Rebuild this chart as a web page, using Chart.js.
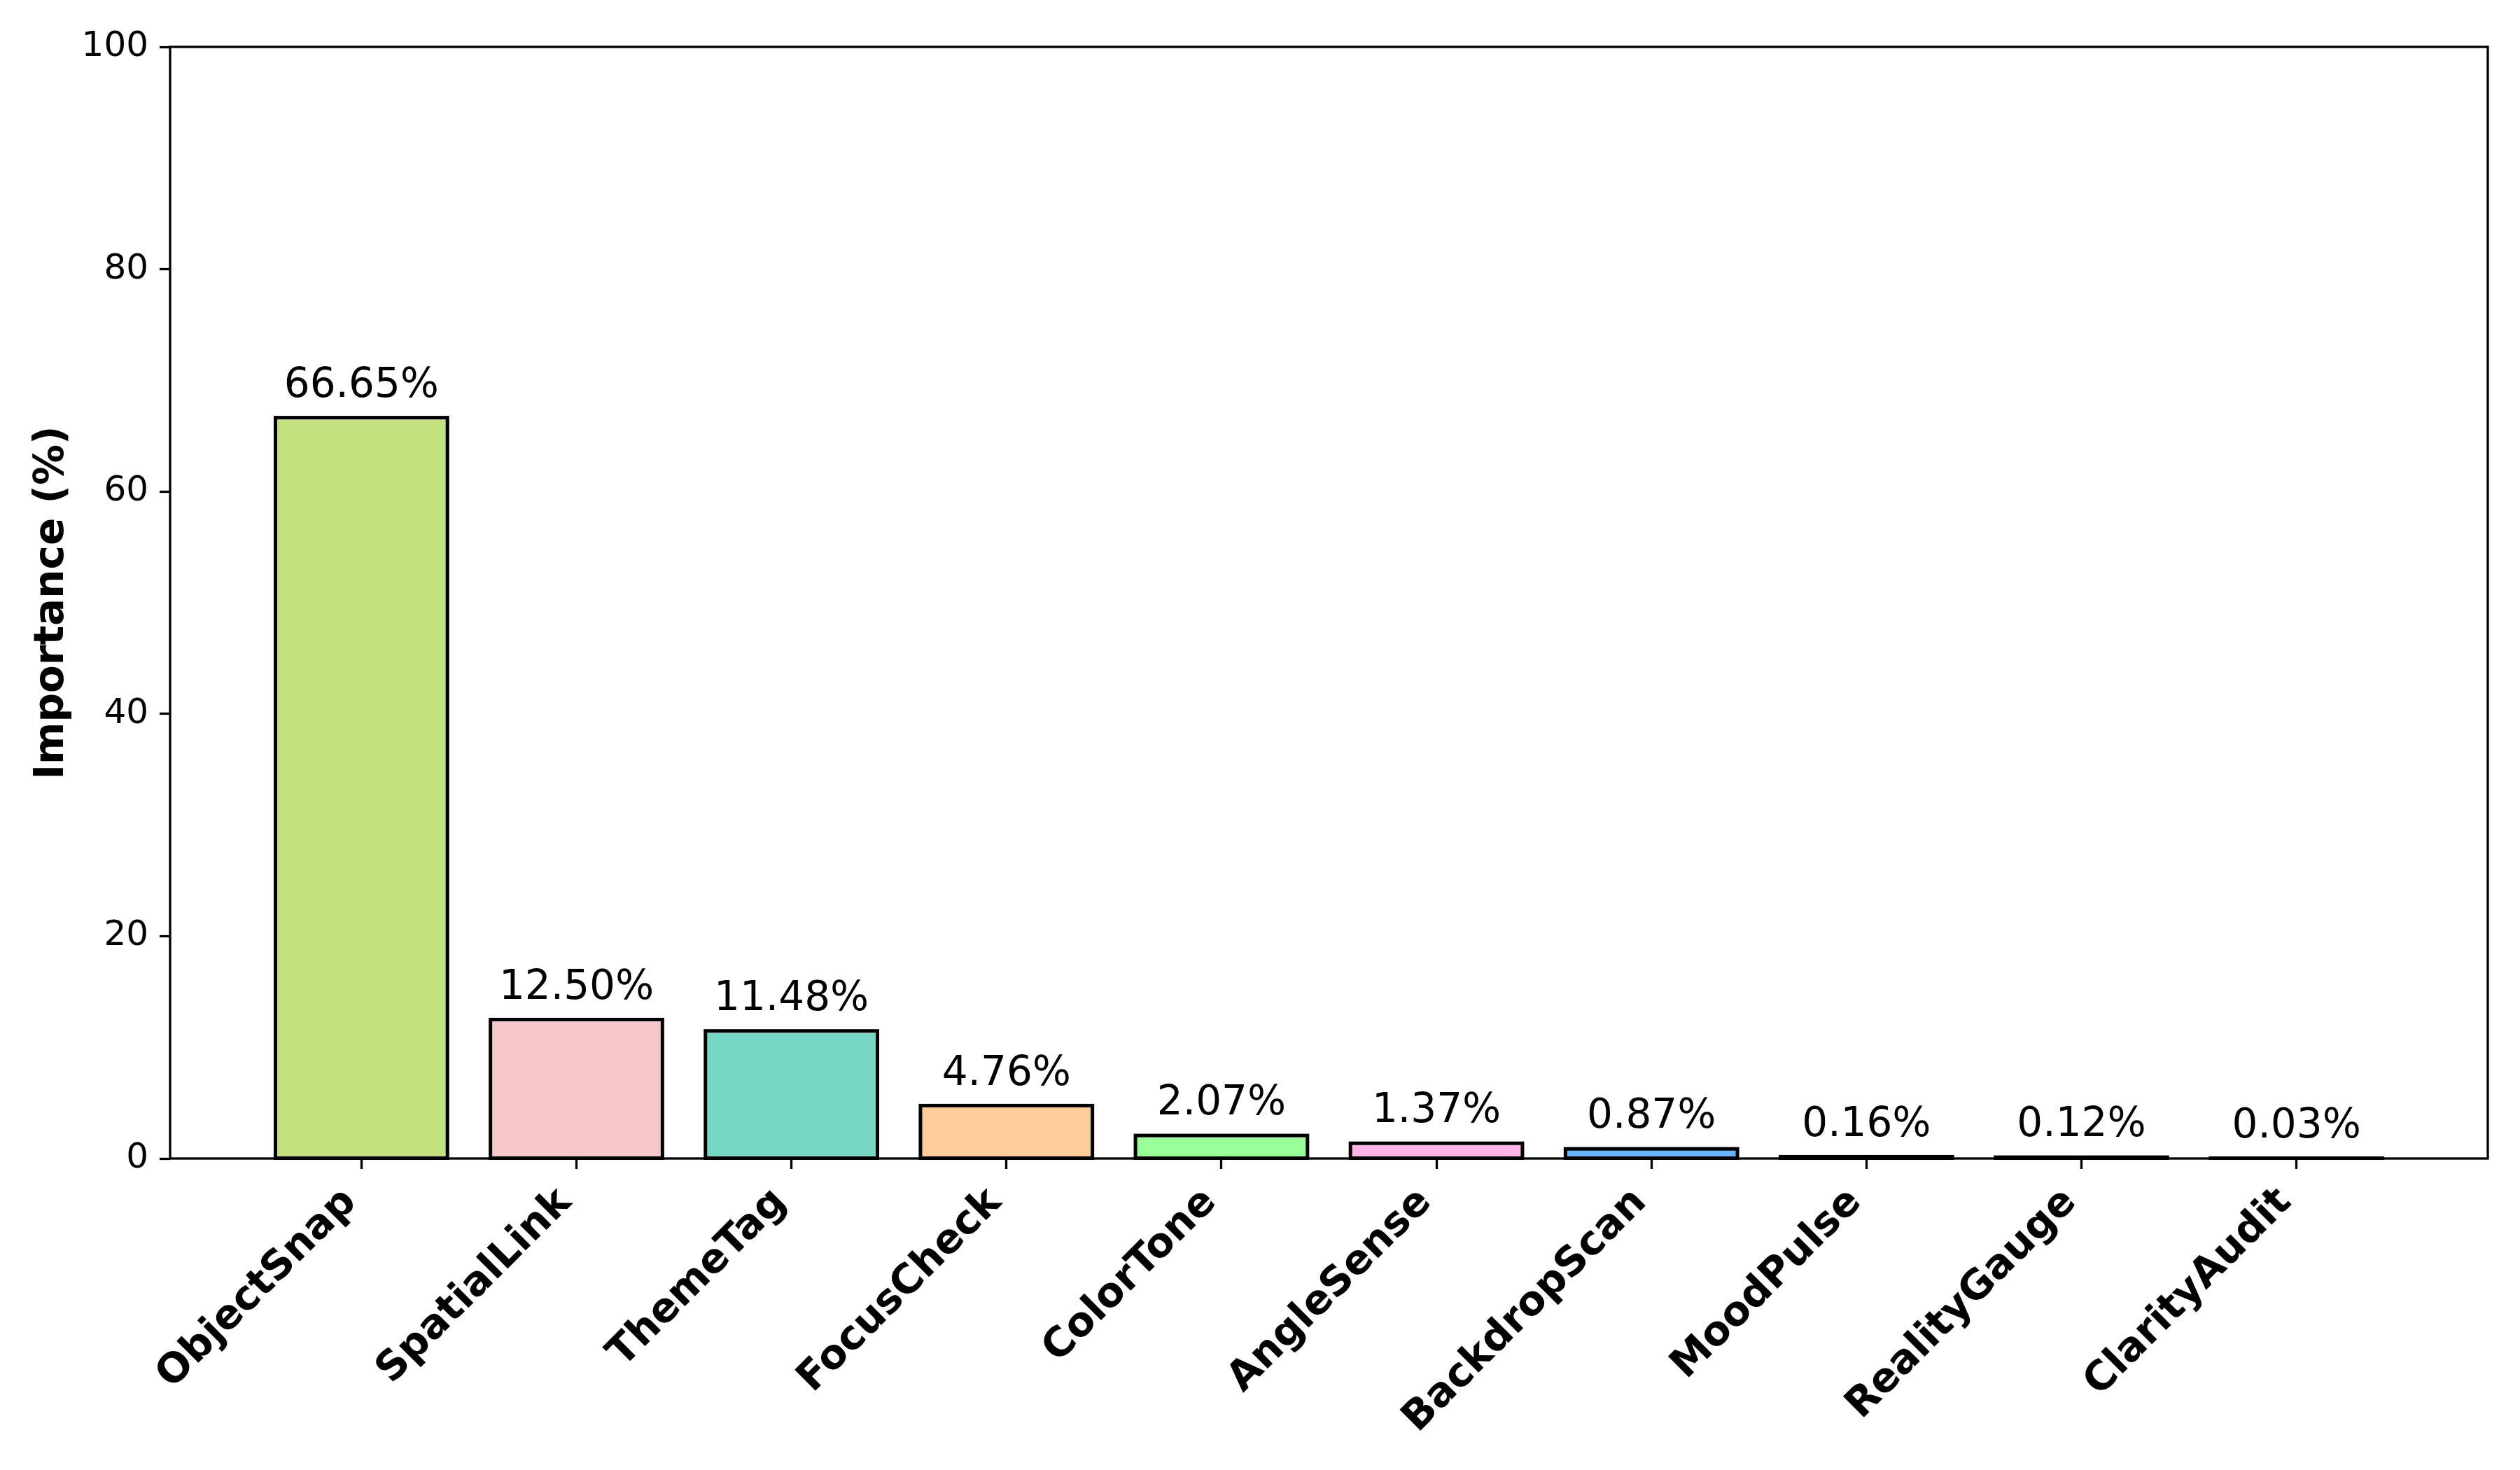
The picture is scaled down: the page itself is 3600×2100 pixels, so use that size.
<!DOCTYPE html>
<html>
<head>
<meta charset="utf-8">
<title>Feature Importance</title>
<script src="https://cdn.jsdelivr.net/npm/chart.js@4.4.1/dist/chart.umd.min.js"></script>
<style>
  html, body { margin: 0; padding: 0; background: #fff; }
  canvas { display: block; }
</style>
</head>
<body>
<canvas id="importanceChart" width="3600" height="2100"></canvas>
<script>
"use strict";

// chart data
const features = ["ObjectSnap", "SpatialLink", "ThemeTag", "FocusCheck", "ColorTone",
                  "AngleSense", "BackdropScan", "MoodPulse", "RealityGauge", "ClarityAudit"];
const importance = [66.65, 12.50, 11.48, 4.76, 2.07, 1.37, 0.87, 0.16, 0.12, 0.03];
const barColors = ["#c4e17f", "#f7c6c7", "#76d7c4", "#ffcc99", "#99ff99",
                   "#ffb3e6", "#66b3ff", "#c2c2f0", "#ffb3b3", "#d5f5e3"];
const yTicks = [0, 20, 40, 60, 80, 100];

const FONT = "'DejaVu Sans', sans-serif";

// black edges around bars + percentage labels above them
const barDecor = {
  id: "barDecor",
  afterDatasetsDraw(chart) {
    const ctx = chart.ctx;
    const yScale = chart.scales.y;
    const meta = chart.getDatasetMeta(0);
    ctx.save();
    ctx.lineWidth = 5;
    ctx.strokeStyle = "#000";
    meta.data.forEach((bar, i) => {
      const { x, y, base, width } = bar.getProps(["x", "y", "base", "width"], true);
      ctx.strokeRect(x - width / 2, y, width, base - y);

      ctx.fillStyle = "#000";
      ctx.font = `58px ${FONT}`;
      ctx.textAlign = "center";
      ctx.textBaseline = "alphabetic";
      ctx.fillText(`${importance[i].toFixed(2)}%`, x, yScale.getPixelForValue(importance[i] + 1) - 14);
    });

    // full frame around the plot (spines)
    const a = chart.chartArea;
    ctx.lineWidth = 3.3;
    ctx.strokeRect(a.left, a.top, a.right - a.left, a.bottom - a.top);
    ctx.restore();
  }
};

const ctx = document.getElementById("importanceChart").getContext("2d");
new Chart(ctx, {
  type: "bar",
  data: {
    datasets: [{
      data: importance.map((v, i) => ({ x: i, y: v })),
      backgroundColor: barColors,
      borderWidth: 0,
      barPercentage: 1,
      categoryPercentage: 0.8
    }]
  },
  options: {
    responsive: false,
    devicePixelRatio: 1,
    animation: false,
    layout: { padding: { left: 0, right: 46, top: 67, bottom: 0 } },
    plugins: { legend: { display: false }, tooltip: { enabled: false } },
    scales: {
      x: {
        type: "linear",
        min: -0.89,
        max: 9.89,
        offset: false,
        afterBuildTicks: axis => { axis.ticks = features.map((_, i) => ({ value: i })); },
        afterFit: axis => { axis.height = 445; },
        ticks: {
          callback: v => features[v],
          autoSkip: false,
          minRotation: 45,
          maxRotation: 45,
          labelOffset: -16,
          padding: 14,
          color: "#000",
          font: { family: FONT, size: 58, weight: "bold" }
        },
        grid: { offset: false, drawOnChartArea: false, drawTicks: true, tickLength: 15, tickWidth: 3.3, tickColor: "#000" },
        border: { display: false }
      },
      y: {
        min: 0,
        max: 100,
        afterBuildTicks: axis => { axis.ticks = yTicks.map(v => ({ value: v })); },
        afterFit: axis => { axis.width = 243; },
        ticks: { padding: 16, color: "#000", font: { family: FONT, size: 50 } },
        grid: { drawOnChartArea: false, drawTicks: true, tickLength: 15, tickWidth: 3.3, tickColor: "#000" },
        border: { display: false },
        title: {
          display: true,
          text: "Importance (%)",
          color: "#000",
          font: { family: FONT, size: 58, weight: "bold" },
          padding: { top: 40, bottom: 0 }
        }
      }
    }
  },
  plugins: [barDecor]
});
</script>
</body>
</html>
